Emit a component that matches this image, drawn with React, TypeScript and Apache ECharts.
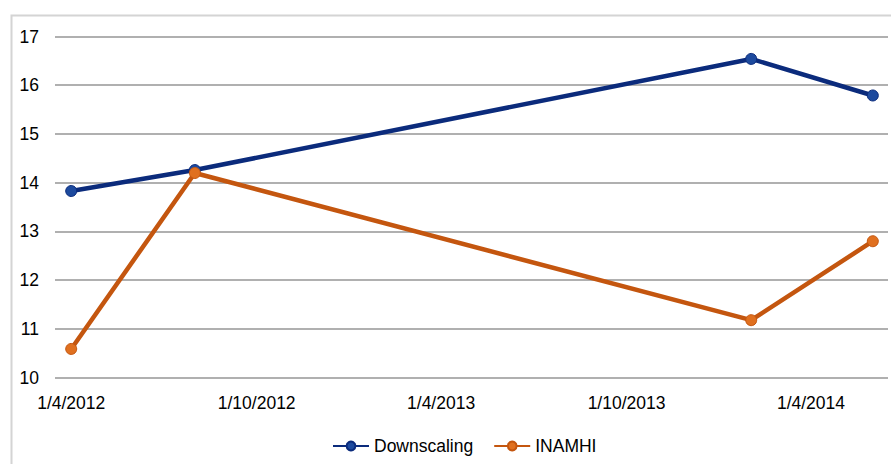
import React, { useEffect, useRef } from "react";
import * as echarts from "echarts";

const dates = ["2012-04-01", "2012-08-01", "2014-02-01", "2014-06-01"];
const downscaling = [13.83, 14.26, 16.54, 15.79];
const inamhi = [10.59, 14.2, 11.18, 12.8];
const tickDates = ["2012-04-01", "2012-10-01", "2013-04-01", "2013-10-01", "2014-04-01"];
const axisStart = "2012-03-16";
const axisEnd = "2014-06-16";

const ts = (s: string) => {
  const [y, m, d] = s.split("-").map(Number);
  return Date.UTC(y, m - 1, d);
};

export default function App() {
  const ref = useRef<HTMLDivElement>(null);
  useEffect(() => {
    if (!ref.current) return;
    const chart = echarts.init(ref.current, null, { renderer: "svg" });
    const font = "Liberation Sans, Arial, sans-serif";
    chart.setOption({
      animation: false,
      backgroundColor: "#ffffff",
      graphic: [
        {
          type: "rect",
          left: 9,
          top: 13,
          shape: { width: 900, height: 470 },
          style: { fill: "none", stroke: "#d4d4d4", lineWidth: 2 },
          silent: true,
          z: -1,
        },
      ],
      grid: { left: 55, right: 3, top: 36.5, bottom: 86.3, containLabel: false },
      legend: {
        bottom: 9,
        left: 332,
        padding: 0,
        itemWidth: 36,
        itemHeight: 11,
        itemGap: 20,
        textStyle: { fontFamily: font, fontSize: 17.5, color: "#000" },
        data: ["Downscaling", "INAMHI"],
      },
      xAxis: {
        type: "value",
        min: ts(axisStart),
        max: ts(axisEnd),
        axisLine: { show: false },
        axisTick: { show: false },
        splitLine: { show: false },
        axisLabel: {
          customValues: tickDates.map(ts),
          fontFamily: font,
          fontSize: 17.5,
          color: "#000",
          margin: 16,
          hideOverlap: false,
          formatter: (v: number) => {
            const d = new Date(v);
            return `${d.getUTCDate()}/${d.getUTCMonth() + 1}/${d.getUTCFullYear()}`;
          },
        },
      },
      yAxis: {
        type: "value",
        min: 10,
        max: 17,
        interval: 1,
        axisLine: { show: false },
        axisTick: { show: false },
        splitLine: { lineStyle: { color: "#b0b0b0", width: 2 } },
        axisLabel: { fontFamily: font, fontSize: 17.5, color: "#000", margin: 16 },
      },
      series: [
        {
          name: "Downscaling",
          type: "line",
          data: dates.map((d, i) => [ts(d), downscaling[i]]),
          symbol: "circle",
          symbolSize: 11,
          lineStyle: { color: "#0b2b7c", width: 4.5 },
          itemStyle: { color: "#1d4a9e", borderColor: "#0b2b7c", borderWidth: 1 },
          z: 3,
        },
        {
          name: "INAMHI",
          type: "line",
          data: dates.map((d, i) => [ts(d), inamhi[i]]),
          symbol: "circle",
          symbolSize: 11,
          lineStyle: { color: "#c4560f", width: 4.5 },
          itemStyle: { color: "#e0701f", borderColor: "#c4560f", borderWidth: 1 },
          z: 4,
        },
      ],
    });
    return () => chart.dispose();
  }, []);
  return (
    <div
      ref={ref}
      style={{ position: "fixed", left: 0, top: 0, width: 891, height: 464 }}
    />
  );
}
